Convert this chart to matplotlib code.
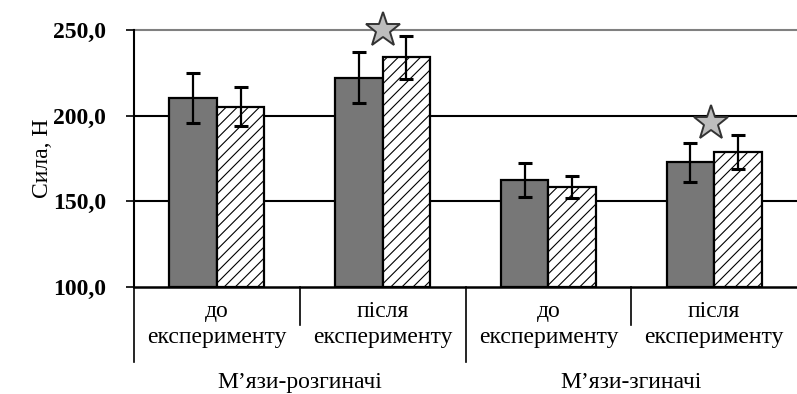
import numpy as np
import matplotlib
matplotlib.use("Agg")
import matplotlib.pyplot as plt
import matplotlib.transforms as mtransforms

plt.rcParams['font.family'] = ['Liberation Serif', 'DejaVu Serif']
plt.rcParams['hatch.linewidth'] = 0.8

# --- data ---
groups = ["до\nексперименту", "після\nексперименту",
          "до\nексперименту", "після\nексперименту"]
muscles = ["М’язи-розгиначі", "М’язи-згиначі"]
dark_vals = [210.5, 222.2, 162.4, 172.7]
dark_err = [14.5, 15.0, 10.0, 11.4]
hatch_vals = [205.2, 234.0, 158.5, 178.8]
hatch_err = [11.3, 12.5, 6.3, 10.0]
star_x = [1.0, 2.98]
star_y = [250.0, 195.7]
yticks = [100, 150, 200, 250]

fig = plt.figure(figsize=(7.97, 3.94), dpi=100)
ax = fig.add_axes([134/797, 107/394, 663/797, 257/394])

x = np.arange(len(groups))
w = 0.287
ax.bar(x - w/2, np.array(dark_vals) - 100, w, bottom=100, color='#777777',
       edgecolor='black', linewidth=1.6, zorder=3)
ax.bar(x + w/2, np.array(hatch_vals) - 100, w, bottom=100, color='white',
       edgecolor='black', linewidth=1.6, hatch='///', zorder=3)
ax.errorbar(x - w/2, dark_vals, yerr=dark_err, fmt='none', ecolor='black',
            elinewidth=1.6, capsize=5, capthick=2.2, zorder=4)
ax.errorbar(x + w/2, hatch_vals, yerr=hatch_err, fmt='none', ecolor='black',
            elinewidth=1.6, capsize=5, capthick=2.2, zorder=4)
ax.plot(star_x, star_y, linestyle='none', marker='*', markersize=26,
        markerfacecolor='#bdbdbd', markeredgecolor='#333333',
        markeredgewidth=1.4, clip_on=False, zorder=5)

ax.set_xlim(-0.5, 3.5)
ax.set_ylim(100, 250)
ax.set_yticks(yticks)
ax.set_yticklabels([('%.1f' % v).replace('.', ',') for v in yticks],
                   fontsize=17, fontweight='bold')
ax.tick_params(axis='y', length=6, width=1.2, pad=14)
for v in yticks[1:-1]:
    ax.axhline(v, color='black', linewidth=1.5, zorder=1)
ax.axhline(250, color='#808080', linewidth=1.5, zorder=1, clip_on=False)

ax.set_xticks(x)
ax.set_xticklabels(groups, fontsize=17, linespacing=1.3)
ax.tick_params(axis='x', length=0, pad=10)

for s in ['top', 'right']:
    ax.spines[s].set_visible(False)
ax.spines['left'].set_linewidth(1.5)
ax.spines['bottom'].set_linewidth(1.8)

ax.set_ylabel('Сила, Н', fontsize=17, labelpad=0)

# category separators under the axis
trans = mtransforms.blended_transform_factory(ax.transData, ax.transAxes)
for sx, depth in [(-0.5, -0.29), (0.5, -0.148), (1.5, -0.29), (2.5, -0.148)]:
    ax.plot([sx, sx], [0, depth], color='black', linewidth=1.2,
            transform=trans, clip_on=False)
for i, name in enumerate(muscles):
    ax.text(2*i + 0.5, -0.37, name, transform=trans, fontsize=17,
            ha='center', va='center')

fig.savefig('out.png', dpi=100)
